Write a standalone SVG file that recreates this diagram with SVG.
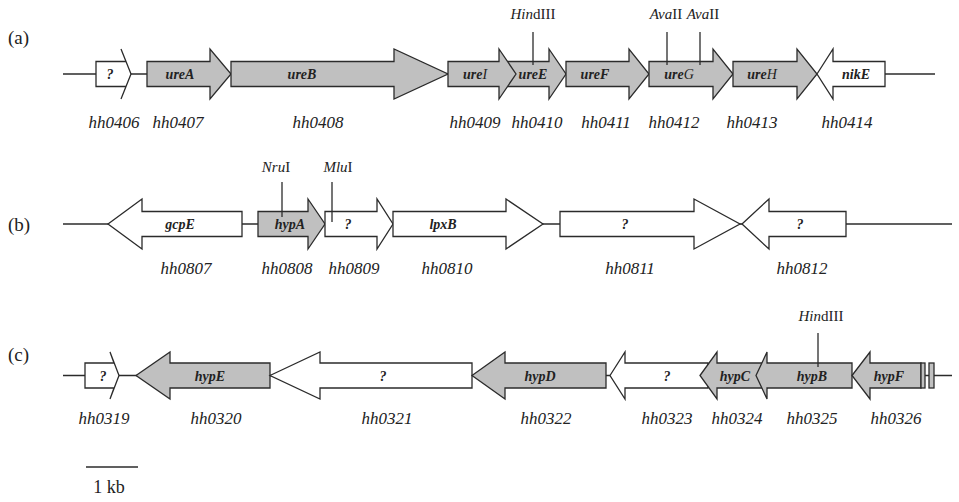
<svg xmlns="http://www.w3.org/2000/svg" width="959" height="502" viewBox="0 0 959 502">
<style>
.bg{fill:#ffffff}
.ln{stroke:#2b2b2b;stroke-width:1.3;fill:none}
.g{fill:#c0c0c0;stroke:#2b2b2b;stroke-width:1.3;stroke-linejoin:miter}
.w{fill:#ffffff;stroke:#2b2b2b;stroke-width:1.3;stroke-linejoin:miter}
text{font-family:"Liberation Serif","Times New Roman",serif;fill:#222}
.gn{font-size:14px;font-weight:bold;font-style:italic;text-anchor:middle}
.id{font-size:17px;font-style:italic;text-anchor:middle}
.rs{font-size:15px;text-anchor:middle}
.pl{font-size:19px}
.it{font-style:italic}
.nb{font-weight:normal}
</style>
<rect class="bg" x="0" y="0" width="959" height="502"/>
<g id="connectors">
<line class="ln" x1="63" y1="74" x2="935" y2="74"/>
<line class="ln" x1="63" y1="224" x2="952" y2="224"/>
<line class="ln" x1="63" y1="375.5" x2="952" y2="375.5"/>
</g>
<text class="pl" x="8" y="44">(a)</text>
<text class="pl" x="8" y="231">(b)</text>
<text class="pl" x="8" y="361">(c)</text>
<!-- Row a -->
<g id="hh0406"><polygon class="w" points="96,61.5 126,61.5 121,49 131,74 121,99 126,86.5 96,86.5"/><text class="gn" x="110" y="79">?</text><text class="id" x="114" y="128">hh0406</text></g>
<g id="hh0407"><polygon class="g" points="147,61.5 210,61.5 210,49 231,74 210,99 210,86.5 147,86.5"/><text class="gn" x="180" y="79">ureA</text><text class="id" x="178" y="128">hh0407</text></g>
<g id="hh0408"><polygon class="g" points="231,61.5 394,61.5 394,49 448,74 394,99 394,86.5 231,86.5"/><text class="gn" x="302" y="79">ureB</text><text class="id" x="318" y="128">hh0408</text></g>
<g id="hh0410"><polygon class="g" points="500,61.5 549,61.5 549,49 566,74 549,99 549,86.5 500,86.5"/><text class="gn" x="533" y="79">ureE</text><text class="id" x="537" y="128">hh0410</text></g>
<g id="hh0409"><polygon class="g" points="448,61.5 499,61.5 499,49 516,74 499,99 499,86.5 448,86.5"/><text class="gn" x="475" y="79">ure<tspan class="nb">I</tspan></text><text class="id" x="475" y="128">hh0409</text></g>
<g id="hh0411"><polygon class="g" points="566,61.5 629,61.5 629,49 649,74 629,99 629,86.5 566,86.5"/><text class="gn" x="595" y="79">ureF</text><text class="id" x="606" y="128">hh0411</text></g>
<g id="hh0412"><polygon class="g" points="649,61.5 713,61.5 713,49 733,74 713,99 713,86.5 649,86.5"/><text class="gn" x="679" y="79">ure<tspan class="nb">G</tspan></text><text class="id" x="674" y="128">hh0412</text></g>
<g id="hh0413"><polygon class="g" points="733,61.5 797,61.5 797,49 817,74 797,99 797,86.5 733,86.5"/><text class="gn" x="762" y="79">ure<tspan class="nb">H</tspan></text><text class="id" x="752" y="128">hh0413</text></g>
<g id="hh0414"><polygon class="w" points="817,74 833,49 833,61.5 885,61.5 885,86.5 833,86.5 833,99"/><text class="gn" x="856" y="79">nikE</text><text class="id" x="847" y="128">hh0414</text></g>
<g id="sites-a">
<line class="ln" x1="533" y1="32" x2="533" y2="65"/>
<line class="ln" x1="667" y1="32" x2="667" y2="65"/>
<line class="ln" x1="700" y1="32" x2="700" y2="65"/>
<text class="rs" x="533" y="19"><tspan class="it">Hin</tspan>dIII</text>
<text class="rs" x="666" y="19"><tspan class="it">Ava</tspan>II</text>
<text class="rs" x="703" y="19"><tspan class="it">Ava</tspan>II</text>
</g>
<!-- Row b -->
<g id="hh0807"><polygon class="w" points="108,224 142,199 142,211.5 242,211.5 242,236.5 142,236.5 142,249"/><text class="gn" x="180" y="229">gcpE</text><text class="id" x="186" y="274">hh0807</text></g>
<g id="hh0808"><polygon class="g" points="258,211.5 308,211.5 308,199 325,224 308,249 308,236.5 258,236.5"/><text class="gn" x="290" y="229">hypA</text><text class="id" x="287" y="274">hh0808</text></g>
<g id="hh0809"><polygon class="w" points="325,211.5 377,211.5 377,199 393,224 377,249 377,236.5 325,236.5"/><text class="gn" x="348" y="229">?</text><text class="id" x="354" y="274">hh0809</text></g>
<g id="hh0810"><polygon class="w" points="393,211.5 506,211.5 506,199 543,224 506,249 506,236.5 393,236.5"/><text class="gn" x="443" y="229">lpxB</text><text class="id" x="447" y="274">hh0810</text></g>
<g id="hh0811"><polygon class="w" points="560,211.5 694,211.5 694,199 740,224 694,249 694,236.5 560,236.5"/><text class="gn" x="625" y="229">?</text><text class="id" x="630" y="274">hh0811</text></g>
<g id="hh0812"><polygon class="w" points="742,224 769,199 769,211.5 846,211.5 846,236.5 769,236.5 769,249"/><text class="gn" x="800" y="229">?</text><text class="id" x="802" y="274">hh0812</text></g>
<g id="sites-b">
<line class="ln" x1="282" y1="182" x2="282" y2="217"/>
<line class="ln" x1="332" y1="182" x2="332" y2="222"/>
<text class="rs" x="276" y="172"><tspan class="it">Nru</tspan>I</text>
<text class="rs" x="338" y="172"><tspan class="it">Mlu</tspan>I</text>
</g>
<!-- Row c -->
<g id="hh0319"><polygon class="w" points="85,363 114,363 110,352 119,375.5 110,399 114,388 85,388"/><text class="gn" x="103" y="380.5">?</text><text class="id" x="104" y="424">hh0319</text></g>
<g id="hh0320"><polygon class="g" points="136,375.5 170,352 170,363 270,363 270,388 170,388 170,399"/><text class="gn" x="210" y="380.5">hypE</text><text class="id" x="216" y="424">hh0320</text></g>
<g id="hh0321"><polygon class="w" points="270,375.5 320,352 320,363 472,363 472,388 320,388 320,399"/><text class="gn" x="383" y="380.5">?</text><text class="id" x="387" y="424">hh0321</text></g>
<g id="hh0322"><polygon class="g" points="472,375.5 505,352 505,363 606,363 606,388 505,388 505,399"/><text class="gn" x="540" y="380.5">hypD</text><text class="id" x="546" y="424">hh0322</text></g>
<g id="hh0323"><polygon class="w" points="610,375.5 625,352 625,363 708,363 708,388 625,388 625,399"/><text class="gn" x="667" y="380.5">?</text><text class="id" x="667" y="424">hh0323</text></g>
<g id="hh0324"><polygon class="g" points="700,375.5 717,352 717,363 767,363 767,388 717,388 717,399"/><text class="gn" x="735" y="380.5">hypC</text><text class="id" x="737" y="424">hh0324</text></g>
<g id="hh0325"><polygon class="g" points="756,375.5 767,352 767,363 852,363 852,388 767,388 767,399"/><text class="gn" x="812" y="380.5">hypB</text><text class="id" x="812" y="424">hh0325</text></g>
<g id="hh0326"><polygon class="g" points="852,375.5 870,352 870,363 921,363 921,388 870,388 870,399"/><rect class="g" x="921" y="363" width="4" height="25"/><rect class="g" x="929" y="363" width="5" height="25"/><text class="gn" x="889" y="380.5">hypF</text><text class="id" x="896" y="424">hh0326</text></g>
<g id="sites-c">
<line class="ln" x1="818" y1="333" x2="818" y2="367"/>
<text class="rs" x="821" y="321"><tspan class="it">Hin</tspan>dIII</text>
</g>
<g id="scale">
<line class="ln" x1="86" y1="467" x2="138" y2="467"/>
<text x="109" y="493" style="font-size:18px;text-anchor:middle">1 kb</text>
</g>
</svg>
